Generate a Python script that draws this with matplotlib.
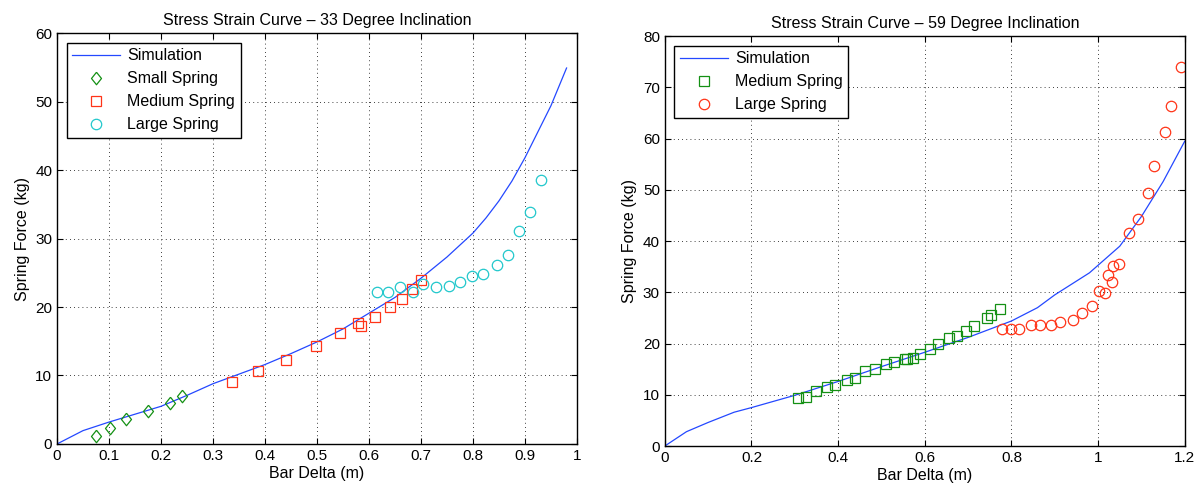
import matplotlib
matplotlib.use("Agg")
import matplotlib.pyplot as plt

plt.rcParams["font.family"] = ["Liberation Sans", "DejaVu Sans"]

# 33 degree inclination
sim33_x = [0, 0.05, 0.1, 0.15, 0.2, 0.25, 0.3, 0.35, 0.4, 0.45, 0.5, 0.55, 0.6,
           0.65, 0.7, 0.75, 0.8, 0.825, 0.85, 0.875, 0.9, 0.95, 0.98]
sim33_y = [0, 1.95, 3.2, 4.35, 5.5, 7.1, 8.8, 10.2, 11.6, 13.2, 14.9, 16.8, 19.1,
           21.4, 24.2, 27.3, 30.8, 33.0, 35.5, 38.4, 41.8, 49.4, 54.9]
small33_x = [0.075, 0.101, 0.132, 0.175, 0.217, 0.241]
small33_y = [1.2, 2.4, 3.6, 4.8, 6.0, 7.0]
medium33_x = [0.336, 0.386, 0.441, 0.498, 0.545, 0.579, 0.585, 0.6125, 0.64, 0.663, 0.682, 0.70]
medium33_y = [9.1, 10.7, 12.3, 14.35, 16.15, 17.6, 17.2, 18.5, 20.0, 21.2, 22.7, 23.9]
large33_x = [0.615, 0.6375, 0.66, 0.684, 0.704, 0.729, 0.753, 0.776, 0.799, 0.82,
             0.847, 0.868, 0.889, 0.91, 0.93]
large33_y = [22.2, 22.2, 22.9, 22.2, 23.3, 22.9, 23.1, 23.7, 24.5, 24.8,
             26.1, 27.6, 31.1, 33.9, 38.6]

# 59 degree inclination
sim59_x = [0, 0.05, 0.1, 0.16, 0.2, 0.3, 0.4, 0.5, 0.6, 0.7, 0.8, 0.86, 0.9,
           0.98, 1.05, 1.1, 1.15, 1.2]
sim59_y = [0, 2.8, 4.6, 6.6, 7.5, 9.9, 12.6, 15.5, 18.3, 21.2, 24.4, 27.0, 29.5,
           33.8, 39.0, 44.8, 51.6, 59.5]
medium59_x = [0.308, 0.326, 0.348, 0.375, 0.392, 0.42, 0.44, 0.463, 0.484, 0.51,
              0.528, 0.554, 0.56, 0.573, 0.59, 0.612, 0.63, 0.655, 0.675, 0.695,
              0.713, 0.744, 0.753, 0.773]
medium59_y = [9.4, 9.6, 10.8, 11.6, 11.9, 12.8, 13.3, 14.6, 15.0, 16.1,
              16.4, 16.9, 17.0, 17.1, 18.0, 18.9, 20.0, 21.1, 21.5, 22.5,
              23.4, 24.9, 25.5, 26.7]
large59_x = [0.779, 0.798, 0.818, 0.845, 0.865, 0.892, 0.912, 0.942, 0.962, 0.987,
             1.002, 1.015, 1.024, 1.031, 1.034, 1.048, 1.072, 1.091, 1.116, 1.13,
             1.155, 1.168, 1.191]
large59_y = [22.9, 22.9, 22.9, 23.7, 23.7, 23.7, 24.3, 24.5, 26.0, 27.4,
             30.2, 29.9, 33.4, 32.0, 35.1, 35.6, 41.6, 44.3, 49.3, 54.7,
             61.2, 66.3, 74.0]

BLUE = "#2448ff"
GREEN = "#149014"
RED = "#ff3418"
CYAN = "#22c8cc"
DIAMOND = [(0, 1), (0.8, 0), (0, -1), (-0.8, 0), (0, 1)]


def style_axes(ax, title, xlim, ylim, xticks, yticks, xticklabels):
    ax.set_xlim(*xlim)
    ax.set_ylim(*ylim)
    ax.set_xticks(xticks)
    ax.set_xticklabels(xticklabels)
    ax.set_yticks(yticks)
    ax.tick_params(direction="in", top=True, right=True, labelsize=11, length=4, width=0.8)
    ax.grid(True, color="black", linestyle=(0, (1, 4)), linewidth=0.6)
    for sp in ax.spines.values():
        sp.set_linewidth(1.0)
    ax.set_title(title, fontsize=11.5, pad=6)
    ax.set_xlabel("Bar Delta (m)", fontsize=11.5, labelpad=2)
    ax.set_ylabel("Spring Force (kg)", fontsize=11.5, labelpad=4)


def add_legend(ax):
    leg = ax.legend(loc="upper left", fontsize=11.5, numpoints=1, handlelength=3.0,
                    handletextpad=0.45, labelspacing=0.5, borderpad=0.35,
                    borderaxespad=0.6, fancybox=False, framealpha=1)
    leg.get_frame().set_edgecolor("black")
    leg.get_frame().set_linewidth(1.0)


fig = plt.figure(figsize=(12, 4.88), dpi=100)
ax1 = fig.add_axes([0.0475, 0.0902, 0.4333, 0.842])
ax2 = fig.add_axes([0.554, 0.086, 0.4333, 0.840])

ax1.plot(sim33_x, sim33_y, color=BLUE, lw=0.9, label="Simulation")
ax1.plot(small33_x, small33_y, ls="none", marker=DIAMOND, ms=9, mfc="none",
         mec=GREEN, mew=0.9, label="Small Spring")
ax1.plot(medium33_x, medium33_y, ls="none", marker="s", ms=7.8, mfc="none",
         mec=RED, mew=0.9, label="Medium Spring")
ax1.plot(large33_x, large33_y, ls="none", marker="o", ms=7.5, mfc="none",
         mec=CYAN, mew=0.9, label="Large Spring")
style_axes(ax1, "Stress Strain Curve \u2013 33 Degree Inclination", (0, 1), (0, 60),
           [i / 10 for i in range(11)], range(0, 61, 10),
           ["0", "0.1", "0.2", "0.3", "0.4", "0.5", "0.6", "0.7", "0.8", "0.9", "1"])
add_legend(ax1)

ax2.plot(sim59_x, sim59_y, color=BLUE, lw=0.9, label="Simulation")
ax2.plot(medium59_x, medium59_y, ls="none", marker="s", ms=7.8, mfc="none",
         mec=GREEN, mew=0.9, label="Medium Spring")
ax2.plot(large59_x, large59_y, ls="none", marker="o", ms=7.5, mfc="none",
         mec=RED, mew=0.9, label="Large Spring")
style_axes(ax2, "Stress Strain Curve \u2013 59 Degree Inclination", (0, 1.2), (0, 80),
           [0, 0.2, 0.4, 0.6, 0.8, 1.0, 1.2], range(0, 81, 10),
           ["0", "0.2", "0.4", "0.6", "0.8", "1", "1.2"])
add_legend(ax2)

fig.savefig("out.png", dpi=100)
